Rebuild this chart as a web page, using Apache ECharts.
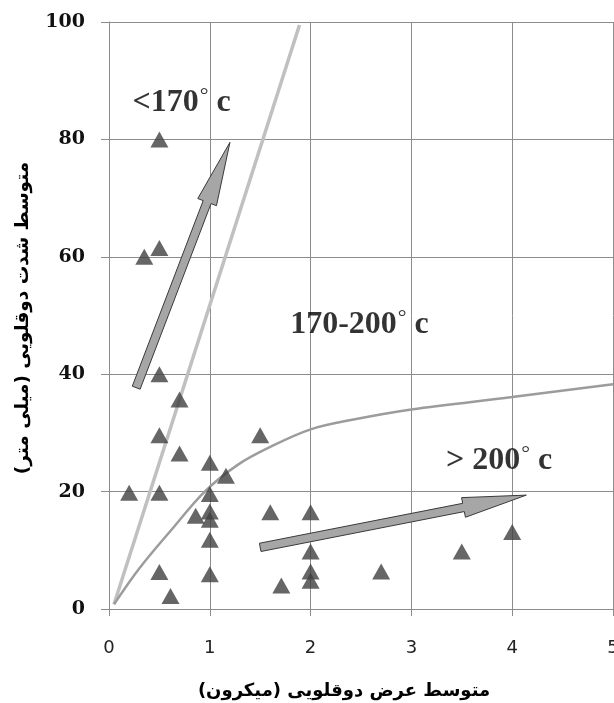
<!DOCTYPE html>
<html>
<head>
<meta charset="utf-8">
<script src="https://cdn.jsdelivr.net/npm/echarts@6/dist/echarts.min.js"></script>
<style>
html,body{margin:0;padding:0;background:#fff;}
#chart{width:614px;height:703px;}
</style>
</head>
<body>
<div id="chart"></div>
<script>
// ---- data ----
const triX = [0.5, 0.35, 0.5, 0.5, 0.7, 0.5, 0.7, 1.5, 1.0, 1.16, 0.2, 0.5, 1.0, 0.86, 1.0, 1.0, 1.0, 1.6, 2.0, 2.0, 2.0, 2.0, 0.5, 1.0, 0.61, 1.71, 2.7, 3.5, 4.0];
const triY = [80, 60, 61.5, 40, 35.7, 29.6, 26.5, 29.6, 24.9, 22.7, 19.8, 19.8, 19.6, 15.9, 16.6, 15.2, 11.8, 16.5, 16.5, 9.8, 6.4, 4.8, 6.3, 5.9, 2.2, 4.0, 6.4, 9.8, 13.1];

const lightX = [0.05, 1.89];
const lightY = [0.8, 99.5];

const curveX = [0.05, 0.3, 0.62, 0.95, 1.28, 1.61, 2.0, 2.4, 3.0, 4.0, 5.0];
const curveY = [0.8, 6.9, 13.5, 20.0, 24.6, 27.7, 30.6, 32.2, 34.0, 36.1, 38.3];

// arrows: tail x, tail y, tip x, tip y
const arrowTailX = [0.27, 1.5];
const arrowTailY = [37.7, 10.5];
const arrowTipX = [1.2, 4.14];
const arrowTipY = [79.5, 19.4];

const labelText = ['<170', '170-200', '> 200'];
const labelX = [0.72, 2.485, 3.87];
const labelY = [86.3, 48.5, 25.3];

const xTicks = [0, 1, 2, 3, 4, 5];
const yTicks = [0, 20, 40, 60, 80, 100];

const xTitle = 'متوسط عرض دوقلویی (میکرون)\u200F';
const yTitle = 'متوسط شدت دوقلویی (میلی متر)\u200F';

// ---- build ----
const triData = triX.map((x, i) => [x, triY[i]]);
const lightData = lightX.map((x, i) => [x, lightY[i]]);
const curveData = curveX.map((x, i) => [x, curveY[i]]);
const arrowData = arrowTailX.map((x, i) => [x, arrowTailY[i], arrowTipX[i], arrowTipY[i]]);
const labelData = labelX.map((x, i) => ({ value: [x, labelY[i]], name: labelText[i] }));

const gridColor = '#8c8c8c';

function renderArrow(params, api) {
  const p1 = api.coord([api.value(0), api.value(1)]);
  const p2 = api.coord([api.value(2), api.value(3)]);
  const dx = p2[0] - p1[0], dy = p2[1] - p1[1];
  const len = Math.sqrt(dx * dx + dy * dy);
  const ux = dx / len, uy = dy / len;
  const nx = -uy, ny = ux;
  const sh = 4.2, hh = 10, hl = 64;
  const bx = p2[0] - ux * hl, by = p2[1] - uy * hl;
  const pts = [
    [p1[0] + nx * sh, p1[1] + ny * sh],
    [bx + nx * sh, by + ny * sh],
    [bx + nx * hh, by + ny * hh],
    [p2[0], p2[1]],
    [bx - nx * hh, by - ny * hh],
    [bx - nx * sh, by - ny * sh],
    [p1[0] - nx * sh, p1[1] - ny * sh]
  ];
  return {
    type: 'polygon',
    shape: { points: pts },
    style: { fill: '#a6a6a6', stroke: '#3a3a3a', lineWidth: 1 }
  };
}

const chart = echarts.init(document.getElementById('chart'), null, { renderer: 'canvas' });
chart.setOption({
  animation: false,
  backgroundColor: '#fff',
  grid: { left: 109, right: 1, top: 22, bottom: 94, containLabel: false, outerBoundsMode: 'none' },
  xAxis: {
    type: 'value', min: xTicks[0], max: xTicks[xTicks.length - 1], interval: 1,
    name: xTitle, nameLocation: 'middle', nameGap: 73,
    nameTextStyle: { fontFamily: 'DejaVu Sans', fontWeight: 'bold', fontSize: 18, color: '#000', padding: [0, 34, 0, 0] },
    axisLine: { show: true, onZero: false, lineStyle: { color: gridColor, width: 1 } },
    axisTick: { show: true, length: 7, lineStyle: { color: gridColor } },
    splitLine: { show: true, lineStyle: { color: gridColor, width: 1 } },
    axisLabel: { margin: 30, fontFamily: 'DejaVu Sans', fontSize: 18, color: '#222', showMaxLabel: true, hideOverlap: false }
  },
  yAxis: {
    type: 'value', min: yTicks[0], max: yTicks[yTicks.length - 1], interval: 20,
    name: yTitle, nameLocation: 'middle', nameGap: 76, nameRotate: 90,
    nameTextStyle: { fontFamily: 'DejaVu Sans', fontWeight: 'bold', fontSize: 18.5, color: '#000', padding: [0, 5, 0, 0] },
    axisLine: { show: true, lineStyle: { color: gridColor, width: 1 } },
    axisTick: { show: true, length: 8, lineStyle: { color: gridColor } },
    splitLine: { show: true, lineStyle: { color: gridColor, width: 1 } },
    axisLabel: { margin: 24, fontFamily: 'DejaVu Serif', fontWeight: 'bold', fontSize: 19, color: '#111' }
  },
  series: [
    {
      type: 'line', data: lightData, symbol: 'none', z: 2,
      lineStyle: { color: '#c0c0c0', width: 3.5 }
    },
    {
      type: 'line', data: curveData, symbol: 'none', smooth: 0.35, z: 2,
      lineStyle: { color: '#9c9c9c', width: 2.5 }
    },
    {
      type: 'scatter', data: triData, symbol: 'triangle', symbolSize: [18, 16], z: 3,
      itemStyle: { color: '#404040' }
    },
    {
      type: 'custom', data: arrowData, renderItem: renderArrow, z: 4,
      encode: { x: [0, 2], y: [1, 3] }
    },
    {
      type: 'scatter', data: labelData, symbolSize: 0, z: 5,
      label: {
        show: true, position: 'inside',
        formatter: p => '{m|' + p.name + '}{d|°}{m| c}',
        rich: {
          m: { fontFamily: 'Liberation Serif', fontWeight: 'bold', fontSize: 32, color: '#000' },
          d: { fontFamily: 'Liberation Serif', fontWeight: 'normal', fontSize: 22, color: '#000', padding: [0, 0, 12, 1] }
        }
      }
    }
  ]
});
</script>
</body>
</html>
